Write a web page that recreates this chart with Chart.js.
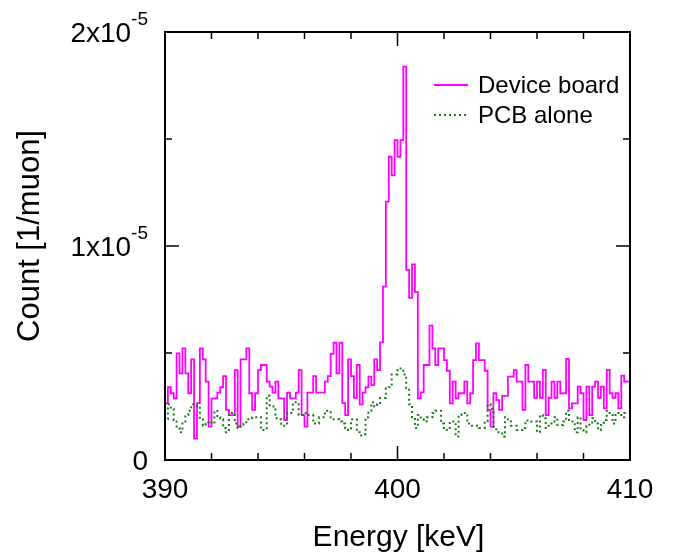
<!DOCTYPE html>
<html><head><meta charset="utf-8">
<script src="https://cdn.jsdelivr.net/npm/chart.js@4/dist/chart.umd.min.js"></script>
<style>html,body{margin:0;padding:0;background:#fff;}#wrap{width:675px;height:552px;}</style>
</head><body><div id="wrap"><canvas id="c" width="675" height="552"></canvas></div>
<script>
// ---- data (counts in units of 1e-6 per muon, 0.125 keV bins starting at 390 keV) ----
const binStart = 390.0;
const binWidth = 0.125;
const valueUnit = 1e-6;
const deviceBoard = [
2.3,2.66,3.40,3.12,2.88,4.98,4.05,5.22,4.05,3.12,
4.7,1.0,2.66,5.22,4.7,3.66,1.56,2.88,2.88,3.15,
3.40,3.92,2.34,2.1,2.1,4.2,1.56,4.7,4.7,5.22,
3.12,2.34,3.12,4.2,4.44,4.44,3.66,3.43,3.15,3.66,
2.88,2.88,1.87,3.15,2.88,2.88,3.15,4.2,2.1,1.56,
3.15,3.15,3.92,3.15,3.15,3.15,3.66,3.92,4.95,5.48,
4.05,5.48,2.66,2.1,4.7,3.92,2.9,4.44,2.6,3.15,
3.40,3.9,3.5,4.7,4.2,5.5,8.1,12.07,14.17,13.3,
14.95,14.17,14.95,18.38,8.88,7.58,9.14,7.84,2.88,3.16,
4.44,4.44,6.28,5.22,4.44,5.22,5.22,4.67,4.17,2.65,
3.66,2.88,3.12,3.12,3.66,2.65,3.12,4.67,5.45,4.67,
4.67,4.17,2.34,1.56,3.12,2.8,2.34,3.0,3.0,3.9,
3.9,4.2,3.66,3.66,2.34,4.44,3.66,3.66,2.91,3.66,
2.91,4.21,2.10,2.91,3.66,2.91,3.66,3.12,3.12,4.72,
2.41,2.65,2.65,3.43,3.12,1.87,3.43,2.10,3.43,3.66,
2.91,3.43,2.41,4.21,3.12,2.91,3.12,2.41,3.94,3.66
];
const pcbAlone = [
2.0,1.9,2.6,2.4,1.87,1.5,1.3,1.8,2.1,2.3,
2.6,2.6,2.5,1.9,1.6,1.7,1.8,1.7,2.3,2.0,
1.9,1.5,1.3,2.2,2.2,1.7,1.5,1.6,1.7,1.9,
1.9,2.0,2.0,2.0,1.4,1.4,3.0,2.5,2.5,1.95,
1.9,1.6,1.6,2.2,2.2,2.7,2.7,2.1,2.1,2.2,
2.1,2.1,1.7,1.7,2.0,2.0,2.3,2.3,1.9,1.9,
1.9,1.8,1.7,1.5,1.4,1.9,1.9,1.3,1.15,1.2,
2.0,2.3,2.7,2.5,2.6,2.9,2.9,3.35,3.4,4.0,
4.0,4.28,4.28,4.0,3.35,2.6,2.0,1.5,2.1,1.9,
1.8,2.0,2.0,2.2,2.3,2.3,1.7,1.4,1.4,1.8,
1.8,1.1,2.1,2.2,2.2,1.7,1.6,1.6,1.6,1.5,
1.5,1.8,2.6,2.4,1.55,1.3,1.3,1.1,2.0,1.9,
1.6,1.6,1.4,1.4,1.5,1.85,1.85,1.8,1.8,1.3,
2.1,1.95,1.5,1.7,1.7,2.0,1.64,1.64,1.8,2.3,
1.8,1.8,1.3,2.0,1.4,1.3,1.6,1.7,1.95,1.7,
1.4,1.64,1.87,2.3,2.1,1.7,2.2,2.2,2.0,2.2
];
const seriesNames = ['Device board', 'PCB alone'];
const xMajorTicks = [390, 400, 410];
const xMajorLabels = ['390', '400', '410'];
const xMinorTicks = [392, 394, 396, 398, 402, 404, 406, 408];
const yMajorTicks = [0, 1e-5, 2e-5];
const yMajorLabels = [['0', ''], ['1x10', '-5'], ['2x10', '-5']];
const yMinorTicks = [0.5e-5, 1.5e-5];
const xTitle = 'Energy [keV]';
const yTitle = 'Count [1/muon]';

function toSteps(vals) {
  const pts = vals.map((v, i) => ({x: binStart + i * binWidth, y: v * valueUnit}));
  pts.push({x: binStart + vals.length * binWidth, y: vals[vals.length - 1] * valueUnit});
  return pts;
}

const FONT = "'Liberation Sans', Arial, sans-serif";
const frame = {
  id: 'frame',
  afterDraw(chart) {
    const ctx = chart.ctx, a = chart.chartArea, xs = chart.scales.x, ys = chart.scales.y;
    ctx.save();
    ctx.strokeStyle = '#000';
    ctx.lineWidth = 1.5;
    const tk = (x1, y1, x2, y2) => { ctx.beginPath(); ctx.moveTo(x1, y1); ctx.lineTo(x2, y2); ctx.stroke(); };
    xMajorTicks.forEach(v => { const p = xs.getPixelForValue(v); tk(p, a.bottom, p, a.bottom - 14); tk(p, a.top, p, a.top + 14); });
    xMinorTicks.forEach(v => { const p = xs.getPixelForValue(v); tk(p, a.bottom, p, a.bottom - 7); tk(p, a.top, p, a.top + 7); });
    yMajorTicks.forEach(v => { const p = ys.getPixelForValue(v); tk(a.left, p, a.left + 14, p); tk(a.right, p, a.right - 14, p); });
    yMinorTicks.forEach(v => { const p = ys.getPixelForValue(v); tk(a.left, p, a.left + 7, p); tk(a.right, p, a.right - 7, p); });
    ctx.lineWidth = 2;
    ctx.strokeRect(a.left, a.top, a.right - a.left, a.bottom - a.top);
    ctx.fillStyle = '#000';
    ctx.textBaseline = 'middle';
    ctx.font = '28px ' + FONT;
    ctx.textAlign = 'center';
    xMajorTicks.forEach((v, i) => ctx.fillText(xMajorLabels[i], xs.getPixelForValue(v), a.bottom + 30));
    yMajorTicks.forEach((v, i) => {
      const p = ys.getPixelForValue(v) + 2;
      const [m, s] = yMajorLabels[i];
      const right = a.left - 17;
      ctx.font = '19px ' + FONT;
      const sw = s ? ctx.measureText(s).width : 0;
      ctx.textAlign = 'left';
      if (s) ctx.fillText(s, right - sw, p - 14);
      ctx.font = '28px ' + FONT;
      ctx.textAlign = 'right';
      ctx.fillText(m, right - sw, p);
    });
    ctx.textAlign = 'center';
    ctx.font = '30px ' + FONT;
    ctx.fillText(xTitle, (a.left + a.right) / 2 + 1, a.bottom + 78);
    ctx.save();
    ctx.translate(30, (a.top + a.bottom) / 2 - 10);
    ctx.rotate(-Math.PI / 2);
    ctx.font = '31px ' + FONT;
    ctx.fillText(yTitle, 0, 0);
    ctx.restore();
    ctx.font = '24px ' + FONT;
    ctx.textAlign = 'left';
    const ds = chart.data.datasets;
    [0, 1].forEach(i => {
      const y = 85 + i * 30;
      ctx.strokeStyle = ds[i].borderColor;
      ctx.lineWidth = ds[i].borderWidth;
      ctx.setLineDash(ds[i].borderDash || []);
      tk(434, y, 468, y);
      ctx.setLineDash([]);
      ctx.fillText(seriesNames[i], 478, y + 1);
    });
    ctx.restore();
  }
};

new Chart(document.getElementById('c'), {
  type: 'line',
  data: {
    datasets: [
      {label: seriesNames[0], data: toSteps(deviceBoard), stepped: 'after', borderColor: '#ff00ff', borderWidth: 1.8, pointRadius: 0, fill: false, order: 2},
      {label: seriesNames[1], data: toSteps(pcbAlone), stepped: 'after', borderColor: '#1a7a1a', borderWidth: 2, borderDash: [2, 3], pointRadius: 0, fill: false, order: 1}
    ]
  },
  options: {
    responsive: false, animation: false, devicePixelRatio: 1,
    layout: {padding: {left: 165, right: 45, top: 32, bottom: 92}},
    scales: {
      x: {type: 'linear', min: 390, max: 410, display: false},
      y: {type: 'linear', min: 0, max: 2e-5, display: false}
    },
    plugins: {legend: {display: false}, tooltip: {enabled: false}},
    elements: {line: {tension: 0}}
  },
  plugins: [frame]
});
</script></body></html>
